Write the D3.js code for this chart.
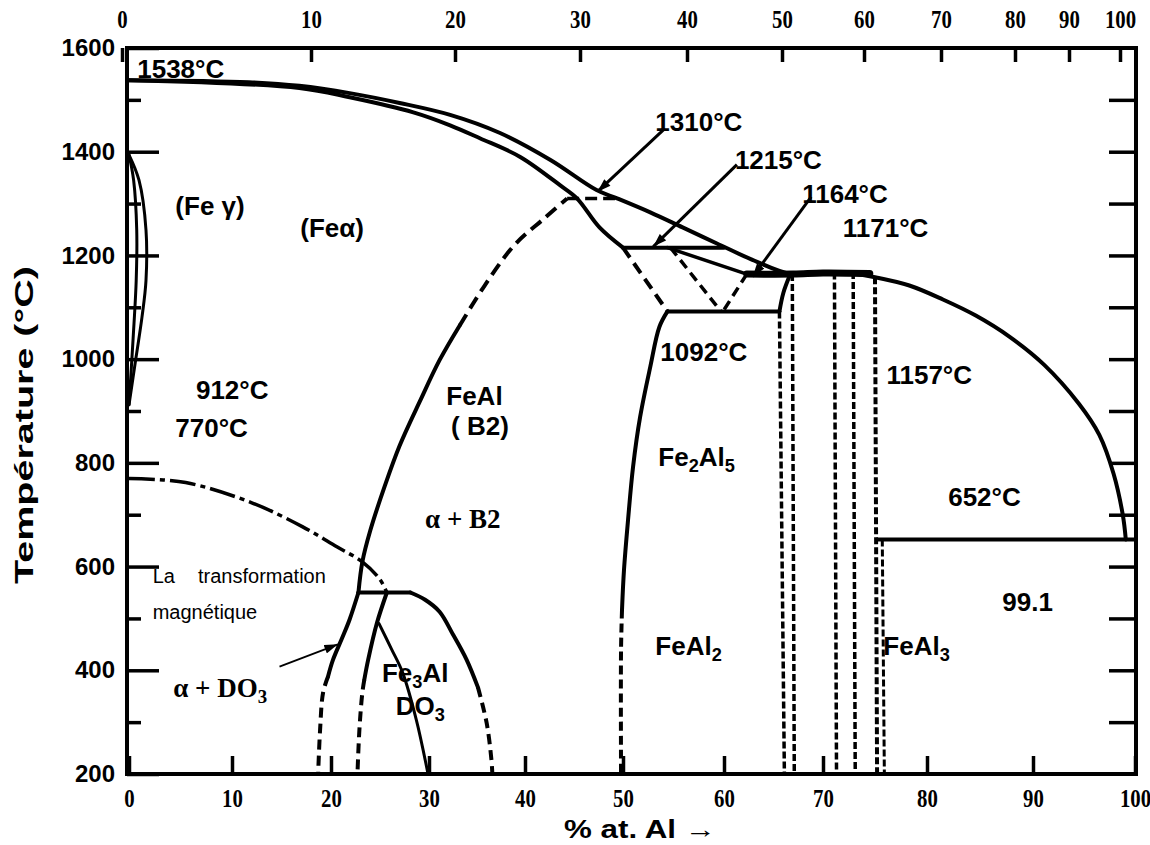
<!DOCTYPE html>
<html>
<head>
<meta charset="utf-8">
<script src="https://cdn.jsdelivr.net/npm/d3@7"></script>
<style>
  body { margin: 0; background: #fff; }
  svg text { font-family: "Liberation Sans", Arial, sans-serif; font-weight: bold; fill: #000; }
</style>
</head>
<body>
<svg id="chart" width="1150" height="845"></svg>
<script>
// tick labels
const atTicks = [0, 10, 20, 30, 40, 50, 60, 70, 80, 90, 100];   // % at. Al (bottom)
const wtTicks = [0, 10, 20, 30, 40, 50, 60, 70, 80, 90, 100];   // % mass Al (top)
const tempTicks = [200, 400, 600, 800, 1000, 1200, 1400, 1600];
const tempMinor = [300, 500, 700, 900, 1100, 1300, 1500];

// curves: % at. Al and °C
const liquidusAt = [0, 11.7, 16.8, 21.9, 27.0, 32.2, 37.4, 42.6, 47.3, 49.4, 52.7, 55.9, 59.3, 62.7, 66.8, 69.8, 71.8, 75.0, 78.3, 81.5, 84.6, 87.8, 91.1, 94.5, 96.5, 97.9, 98.8, 99.1];
const liquidusT  = [1538, 1534, 1527, 1513, 1494, 1471, 1436, 1384, 1326, 1310, 1283, 1254, 1223, 1193, 1164, 1167, 1168, 1158, 1142, 1115, 1084, 1043, 989, 914, 854, 779, 700, 652];

const solidusAt = [0, 16.8, 21.9, 28.4, 32.2, 35.3, 39.5, 43.6, 45.3, 47.6, 50.0];
const solidusT  = [1538, 1523, 1505, 1476, 1451, 1426, 1390, 1335, 1310, 1254, 1215];

const gammaOutAt = [0, 0.97, 1.65, 1.65, 1.26, 0.68, 0];
const gammaOutT  = [1394, 1345, 1249, 1152, 1081, 1003, 912];
const gammaInAt  = [0, 0.45, 0.75, 0.7, 0.4, 0];
const gammaInT   = [1394, 1345, 1249, 1152, 1040, 912];

const b2SolidAt = [22.8, 23.2, 24.0, 25.5, 27.0, 29.1, 31.1, 33.2];
const b2SolidT  = [550, 609, 669, 756, 833, 920, 998, 1065];
const b2DashAt  = [33.2, 35.8, 38.9, 42.0, 44.3];
const b2DashT   = [1065, 1142, 1220, 1272, 1310];

const magAt = [0, 5.5, 12.0, 17.1, 20.6, 23.2, 25.0, 25.7];
const magT  = [770, 762, 723, 677, 638, 609, 575, 550];

const do3TopAt = [22.8, 28.1];
const do3TopT  = [550, 550];
const do3LeftAt = [22.8, 21.9, 21.2, 20.2, 19.7];
const do3LeftT  = [550, 498, 465, 420, 388];
const do3LeftDashAt = [19.7, 19.2, 18.9, 18.7];
const do3LeftDashT  = [388, 357, 286, 200];
const do3MidAt = [25.7, 24.7, 23.8, 23.4];
const do3MidT  = [550, 492, 421, 382];
const do3MidDashAt = [23.4, 23.2, 22.9, 22.7];
const do3MidDashT  = [382, 357, 286, 200];
const fe3alAt = [24.9, 26.2, 27.3, 28.7, 29.9];
const fe3alT  = [490, 440, 396, 305, 200];
const domeAt = [28.1, 29.6, 31.1, 32.5, 33.9, 35.1];
const domeT  = [550, 536, 513, 469, 421, 367];
const domeDashAt = [35.1, 36.0, 36.5, 36.6];
const domeDashT  = [367, 299, 228, 200];

const peri1310At = [44.3, 49.4];
const peri1310T  = [1310, 1310];
const peri1215At = [50.0, 60.0];
const peri1215T  = [1215, 1215];
const epsSlopeAt = [54.4, 62.3];
const epsSlopeT  = [1215, 1164];
const epsDashAAt = [50.0, 54.4];
const epsDashAT  = [1215, 1092];
const epsDashBAt = [54.7, 59.7];
const epsDashBT  = [1215, 1092];
const epsDashCAt = [62.3, 59.9];
const epsDashCT  = [1164, 1092];
const eut1092At = [54.4, 65.6];
const eut1092T  = [1092, 1092];
const bar1164At = [62.3, 67.0, 70.0, 74.5];
const bar1164T  = [1164, 1164, 1166, 1165];
const eut652At = [75.2, 100];
const eut652T  = [652, 652];

const fe2al5At = [54.4, 53.6, 52.7, 51.7, 51.0, 50.5, 50.1, 49.9];
const fe2al5T  = [1092, 1062, 985, 889, 793, 690, 594, 517];
const fe2al5DashAt = [49.9, 49.8, 49.8];
const fe2al5DashT  = [517, 440, 200];

const feal2LeftAt = [66.7, 66.0, 65.6];
const feal2LeftT  = [1164, 1128, 1092];
const feal2LeftDashAt = [65.6, 66.1];
const feal2LeftDashT  = [1092, 200];
const feal2RightAt = [66.9, 67.1];
const feal2RightT  = [1164, 200];
const midLeftAt = [71.1, 71.3];
const midLeftT  = [1167, 200];
const midRightAt = [72.9, 73.1];
const midRightT  = [1168, 200];
const feal3LeftAt = [75.0, 75.2];
const feal3LeftT  = [1158, 200];
const feal3RightAt = [75.7, 75.9];
const feal3RightT  = [652, 200];

// arrows: [from at, from T, to at, to T]
const arrow1310 = [54.0, 1442, 47.4, 1323];
const arrow1215 = [61.3, 1375, 53.0, 1217];
const arrow1164 = [68.8, 1313, 62.9, 1159];
const arrowDO3  = [14.8, 407, 20.7, 450];

// labels (left edge at. %, baseline °C)
const labelText = ["1538°C", "1310°C", "1215°C", "1164°C", "1171°C", "1092°C", "1157°C", "652°C", "99.1",
  "912°C", "770°C", "(Fe γ)", "(Feα)", "FeAl", "( B2)", "Fe_2Al_5", "FeAl_2", "FeAl_3", "Fe_3Al", "DO_3"];
const labelAt = [0.8, 53.2, 61.1, 67.9, 71.9, 53.7, 76.1, 82.0, 87.1, 6.5, 4.5, 4.5, 16.9, 31.8, 32.3, 53.5, 53.2, 75.8, 25.2, 26.6];
const labelT  = [1542, 1440, 1367, 1301, 1236, 996, 952, 717, 514, 923, 850, 1278, 1236, 912, 854, 794, 430, 430, 378, 314];
const serifText = ["α + B2", "α + DO_3"];
const serifAt = [29.6, 4.3];
const serifT  = [674, 349];
const noteText = ["La", "transformation", "magnétique"];
const noteAt = [2.3, 6.7, 2.3];
const noteT  = [568, 568, 498];

const svg = d3.select("#chart");
const plotL = 127, plotR = 1136, plotT = 48, plotB = 774;

const x = d3.scaleLinear().domain(atTicks).range([129, 232, 331, 429, 525, 623, 724, 823, 927, 1033, 1135]);
const xTop = d3.scaleLinear().domain(wtTicks).range([122, 311, 455, 580, 687, 782, 864, 941, 1015, 1069, 1120]);
const y = d3.scaleLinear().domain([200, 1600]).range([plotB, plotT]);

svg.append("rect").attr("width", 1150).attr("height", 845).attr("fill", "#fff");

const defs = svg.append("defs");
defs.append("marker")
  .attr("id", "head")
  .attr("viewBox", "0 0 12 8")
  .attr("refX", 12).attr("refY", 4)
  .attr("markerWidth", 14).attr("markerHeight", 9)
  .attr("markerUnits", "userSpaceOnUse")
  .attr("orient", "auto")
  .append("path").attr("d", "M0,0 L12,4 L0,8 Z").attr("fill", "#000");

// axes
function styleAxis(g) {
  g.select(".domain").remove();
  g.selectAll(".tick line").attr("stroke", "#000").attr("stroke-width", 3.5);
}

svg.append("g").attr("transform", `translate(${plotL},0)`)
  .call(d3.axisLeft(y).tickValues(tempTicks).tickFormat(d3.format("d")).tickSize(-32).tickPadding(12))
  .call(styleAxis)
  .selectAll("text").style("font-size", "24px").attr("fill", "#000");

svg.append("g").attr("transform", `translate(${plotL},0)`)
  .call(d3.axisLeft(y).tickValues(tempMinor).tickSize(-14).tickFormat(""))
  .call(styleAxis);

svg.append("g").attr("transform", `translate(${plotR},0)`)
  .call(d3.axisRight(y).tickValues(tempTicks.concat(tempMinor).filter(d => d > 200 && d < 1600)).tickSize(-27).tickFormat(""))
  .call(styleAxis);

const topAxis = svg.append("g").attr("transform", `translate(0,${plotT})`)
  .call(d3.axisTop(xTop).tickValues(wtTicks).tickSize(-14).tickPadding(20))
  .call(styleAxis);
topAxis.selectAll("text")
  .style("font-family", '"Liberation Serif", "Times New Roman", serif')
  .style("font-size", "26px").attr("fill", "#000")
  .attr("transform", "scale(0.8,1)");

const bottomAxis = svg.append("g").attr("transform", `translate(0,${plotB})`)
  .call(d3.axisBottom(x).tickValues(atTicks).tickSize(-18).tickPadding(15))
  .call(styleAxis);
bottomAxis.selectAll("text")
  .style("font-family", '"Liberation Serif", "Times New Roman", serif')
  .style("font-size", "26px").attr("fill", "#000")
  .attr("transform", "scale(0.8,1)");

// frame
svg.append("rect")
  .attr("x", plotL).attr("y", plotT)
  .attr("width", plotR - plotL).attr("height", plotB - plotT)
  .attr("fill", "none").attr("stroke", "#000").attr("stroke-width", 4);

// curves
const line = d3.line()
  .x(d => x(d[0]))
  .y(d => y(d[1]))
  .curve(d3.curveCatmullRom.alpha(0.5));

const curves = [
  [liquidusAt, liquidusT, 4, null],
  [solidusAt, solidusT, 4, null],
  [gammaOutAt, gammaOutT, 3, null],
  [gammaInAt, gammaInT, 3, null],
  [b2SolidAt, b2SolidT, 4, null],
  [b2DashAt, b2DashT, 4, "13,7"],
  [magAt, magT, 3.5, "26,5,5,5"],
  [do3TopAt, do3TopT, 4, null],
  [do3LeftAt, do3LeftT, 4, null],
  [do3LeftDashAt, do3LeftDashT, 4, "10,6"],
  [do3MidAt, do3MidT, 4, null],
  [do3MidDashAt, do3MidDashT, 4, "10,6"],
  [fe3alAt, fe3alT, 3, null],
  [domeAt, domeT, 4, null],
  [domeDashAt, domeDashT, 4, "10,6"],
  [peri1310At, peri1310T, 3.5, "12,6"],
  [peri1215At, peri1215T, 4, null],
  [epsSlopeAt, epsSlopeT, 3.5, null],
  [epsDashAAt, epsDashAT, 4, "12,7"],
  [epsDashBAt, epsDashBT, 3.5, "10,6"],
  [epsDashCAt, epsDashCT, 3.5, "10,6"],
  [eut1092At, eut1092T, 4, null],
  [bar1164At, bar1164T, 7, null],
  [eut652At, eut652T, 4, null],
  [fe2al5At, fe2al5T, 4, null],
  [fe2al5DashAt, fe2al5DashT, 4, "9,5"],
  [feal2LeftAt, feal2LeftT, 4, null],
  [feal2LeftDashAt, feal2LeftDashT, 3.5, "7,3"],
  [feal2RightAt, feal2RightT, 3.5, "7,3"],
  [midLeftAt, midLeftT, 3.5, "7,3"],
  [midRightAt, midRightT, 3.5, "7,3"],
  [feal3LeftAt, feal3LeftT, 4, "7,3"],
  [feal3RightAt, feal3RightT, 3, "7,3"]
];

svg.append("g").selectAll("path")
  .data(curves)
  .join("path")
  .attr("d", c => line(d3.zip(c[0], c[1])))
  .attr("fill", "none")
  .attr("stroke", "#000")
  .attr("stroke-width", c => c[2])
  .attr("stroke-dasharray", c => c[3])
  .attr("stroke-linecap", c => c[3] ? "butt" : "round");

// arrows
svg.append("g").selectAll("line")
  .data([arrow1310, arrow1215, arrow1164, arrowDO3])
  .join("line")
  .attr("x1", a => x(a[0])).attr("y1", a => y(a[1]))
  .attr("x2", a => x(a[2])).attr("y2", a => y(a[3]))
  .attr("stroke", "#000")
  .attr("stroke-width", (a, i) => i === 3 ? 1.8 : 3)
  .attr("marker-end", "url(#head)");

// text with subscripts written as _n
function addLabel(g, str) {
  let shifted = false;
  str.split(/(_\d)/).filter(s => s.length).forEach(part => {
    if (part[0] === "_") {
      g.append("tspan").attr("dy", 6).style("font-size", "70%").text(part.slice(1));
      shifted = true;
    } else {
      g.append("tspan").attr("dy", shifted ? -6 : null).text(part);
      shifted = false;
    }
  });
}

const labels = d3.zip(labelText, labelAt, labelT);
svg.append("g").selectAll("text")
  .data(labels)
  .join("text")
  .attr("x", d => x(d[1])).attr("y", d => y(d[2]))
  .style("font-size", "26px")
  .each(function (d) { addLabel(d3.select(this), d[0]); });

svg.append("g").selectAll("text")
  .data(d3.zip(serifText, serifAt, serifT))
  .join("text")
  .attr("x", d => x(d[1])).attr("y", d => y(d[2]))
  .style("font-family", '"Liberation Serif", "Times New Roman", serif')
  .style("font-size", "27px")
  .each(function (d) { addLabel(d3.select(this), d[0]); });

svg.append("g").selectAll("text")
  .data(d3.zip(noteText, noteAt, noteT))
  .join("text")
  .attr("x", d => x(d[1])).attr("y", d => y(d[2]))
  .style("font-size", "20px")
  .style("font-weight", "normal")
  .text(d => d[0]);

// axis titles
svg.append("text")
  .attr("transform", "translate(33,425) rotate(-90)")
  .attr("text-anchor", "middle")
  .attr("textLength", 318)
  .attr("lengthAdjust", "spacingAndGlyphs")
  .style("font-size", "25px")
  .text("Température (°C)");

svg.append("text")
  .attr("x", 640).attr("y", 838)
  .attr("text-anchor", "middle")
  .attr("textLength", 152)
  .attr("lengthAdjust", "spacingAndGlyphs")
  .style("font-size", "25px")
  .text("% at. Al →");
</script>
</body>
</html>
